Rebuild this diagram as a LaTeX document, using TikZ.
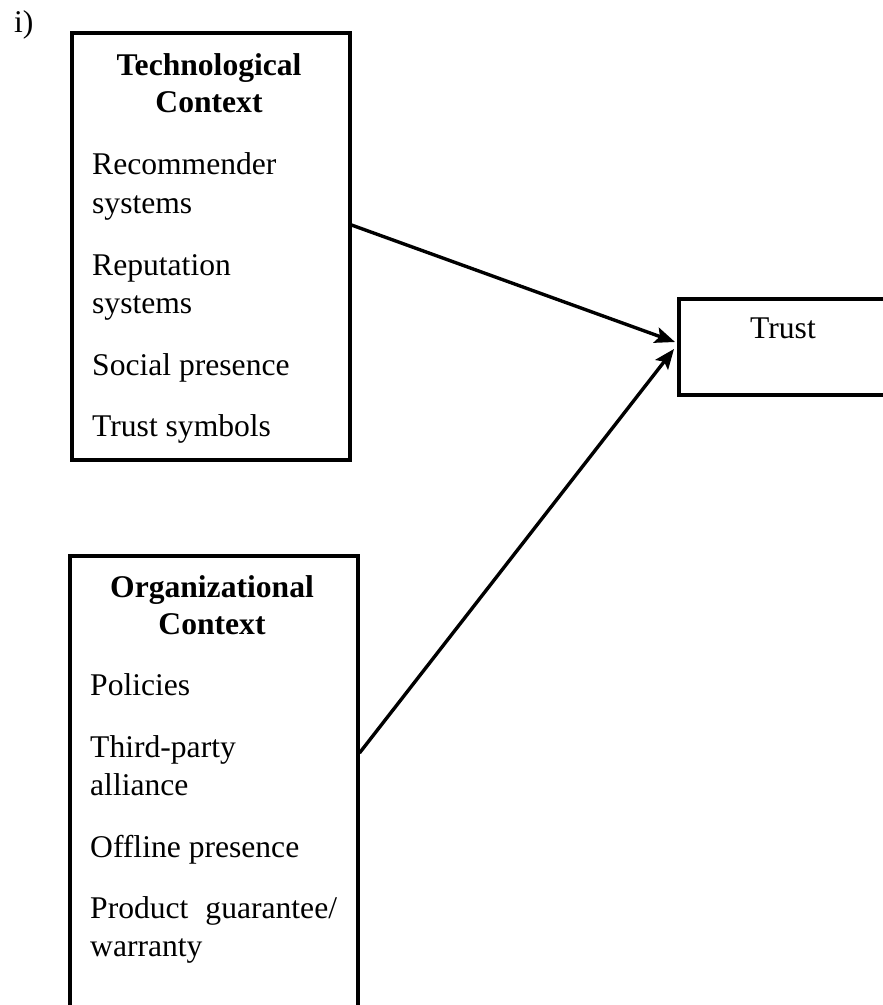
\documentclass[tikz,border=0pt]{standalone}
\usepackage{fontspec}
\setmainfont{Liberation Serif}
\usetikzlibrary{arrows.meta,calc}
\begin{document}
\begin{tikzpicture}[x=1pt,y=-1pt,
  frame/.style={draw=black, line width=3.5pt, rectangle, inner sep=0pt, anchor=north west},
  item/.style={anchor=base west, inner sep=0pt, font=\fontsize{31.6}{38}\selectfont},
  head/.style={anchor=base, inner sep=0pt, font=\fontsize{31.6}{38}\selectfont\bfseries},
  link/.style={line width=3.4pt, -{Stealth[length=20pt,width=16pt,inset=4pt]}}]
\useasboundingbox (0,0) rectangle (883,1005);
\begin{scope}
\clip (0,0) rectangle (883,1005);

% panel label
\node[item] (panel) at (14,32) {i)};

% technological context
\node[frame, minimum width=278pt, minimum height=427pt] (tech) at (70,31) {};
\node[head] (techA) at (209,75) {Technological};
\node[head] (techB) at (209,112) {Context};
\node[item] (t1) at (92,174) {Recommender};
\node[item] (t2) at (92,213) {systems};
\node[item] (t3) at (92,275) {Reputation};
\node[item] (t4) at (92,313) {systems};
\node[item] (t5) at (92,375) {Social presence};
\node[item] (t6) at (92,436) {Trust symbols};

% organizational context (runs on below the page edge)
\node[frame, minimum width=288pt, minimum height=500pt] (org) at (68,554) {};
\node[head] (orgA) at (212,597) {Organizational};
\node[head] (orgB) at (212,634) {Context};
\node[item] (o1) at (90,695) {Policies};
\node[item] (o2) at (90,757) {Third-party};
\node[item] (o3) at (90,795) {alliance};
\node[item] (o4) at (90,857) {Offline presence};
\node[item] (o5) at (90,918) {Product\hspace{17pt}guarantee/};
\node[item] (o6) at (90,956) {warranty};

% outcome
\node[frame, minimum width=250pt, minimum height=96pt] (trust) at (677,297) {};
\node[item] (trustlbl) at (750,338) {Trust};

% links
\draw[link] ($(tech.north east)+(0,194)$) -- ($(trust.north west)+(-2,45)$);
\draw[link] ($(org.north east)+(0,199)$) -- ($(trust.north west)+(-3,52)$);
\end{scope}
\end{tikzpicture}
\end{document}
